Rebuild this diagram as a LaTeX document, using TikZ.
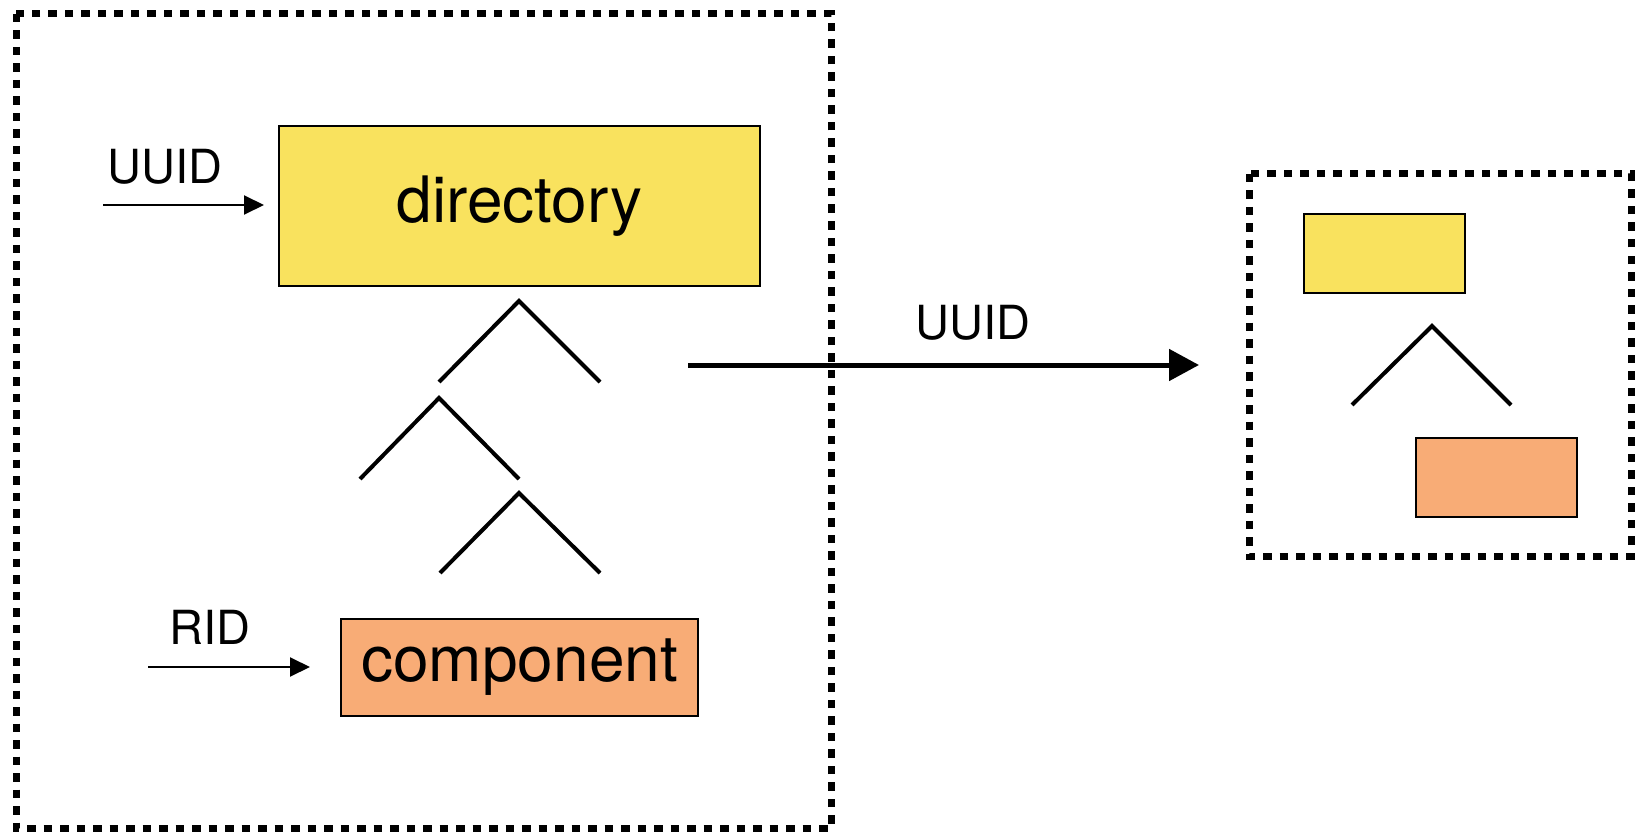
\documentclass[tikz,border=0pt]{standalone}
\usepackage{fontspec}
\setmainfont{TeX Gyre Heros}
\usetikzlibrary{arrows.meta,positioning}
\definecolor{dirYellow}{RGB}{249,226,94}
\definecolor{compOrange}{RGB}{248,172,118}
\tikzstyle{dirbox}  = [rectangle, draw=black, line width=2pt, fill=dirYellow, font=\fontsize{64}{72}\selectfont]
\tikzstyle{compbox} = [rectangle, draw=black, line width=2pt, fill=compOrange, font=\fontsize{64}{72}\selectfont]
\tikzstyle{dotbox}  = [line width=7pt, dash pattern=on 8.5pt off 8pt]
\tikzstyle{branch}  = [line width=4pt]
\tikzstyle{arrow}   = [line width=2pt, -{Triangle[length=20pt,width=19pt]}]
\tikzstyle{bigarrow} = [line width=5pt, -{Triangle[length=30pt,width=31pt]}]
\tikzstyle{lbl}     = [font=\fontsize{47}{54}\selectfont]

\begin{document}
\begin{tikzpicture}[x=1pt,y=-1pt]
    \useasboundingbox (0,0) rectangle (1635,834);

    % left side: full tree
    \draw[dotbox] (16,14) rectangle (831,828);
    \node[dirbox, minimum width=481pt, minimum height=160pt] (dir) at (519.5,206) {directory};
    \node[compbox, minimum width=357pt, minimum height=97pt] (comp) at (519.5,667.5) {component};

    \coordinate (uuidin) at (103,205);
    \node[lbl] (uuidlbl) at (165,167) {UUID};
    \draw[arrow] (uuidin) -- (264,205);

    \coordinate (ridin) at (148,667);
    \node[lbl] (ridlbl) at (210,627) {RID};
    \draw[arrow] (ridin) -- (310,667);

    \draw[branch] (439,382) -- (519,301) -- (600,382);
    \draw[branch] (360,479) -- (439,398) -- (519,479);
    \draw[branch] (440,573) -- (519,493) -- (600,573);

    % transfer by UUID
    \coordinate (uuidfrom) at (688,365);
    \coordinate (uuidto) at (1199,365);
    \draw[bigarrow] (uuidfrom) -- (uuidto);
    \node[lbl] (uuidmid) at (973,323) {UUID};

    % right side: small tree
    \draw[dotbox] (1249,174) rectangle (1631,556);
    \node[dirbox, minimum width=161pt, minimum height=79pt] (sdir) at (1384.5,253.5) {};
    \node[compbox, minimum width=161pt, minimum height=79pt] (scomp) at (1496.5,477.5) {};
    \draw[branch] (1352,405) -- (1432,326) -- (1511,405);
\end{tikzpicture}
\end{document}
